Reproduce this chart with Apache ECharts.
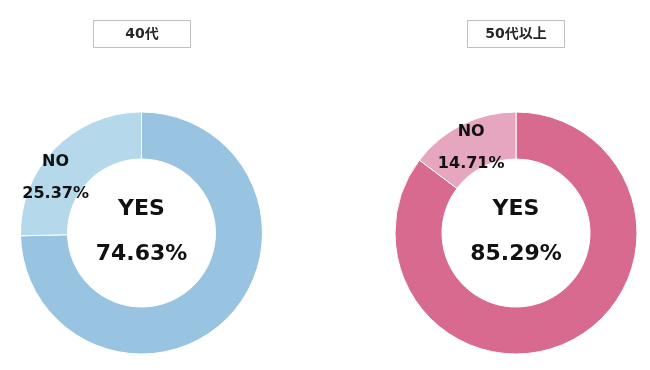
<!DOCTYPE html>
<html>
<head>
<meta charset="utf-8">
<script src="https://cdn.jsdelivr.net/npm/echarts@6/dist/echarts.min.js"></script>
<style>html,body{margin:0;padding:0;background:#fff;}#c{width:650px;height:370px;}</style>
</head>
<body>
<div id="c"></div>
<script>
var titles = ['40代', '50代以上'];
var categories = ['YES', 'NO'];
var values40 = [74.63, 25.37];
var values50 = [85.29, 14.71];

var FONT = '"DejaVu Sans", "Noto Sans CJK JP", sans-serif';
var chart = echarts.init(document.getElementById('c'));

function buildData(values, colors, noOffset) {
  return categories.map(function (name, i) {
    var item = { name: name, value: values[i], itemStyle: { color: colors[i] } };
    if (i === 0) {
      item.label = { position: 'center', fontSize: 22, lineHeight: 45, offset: [0, -1] };
    } else {
      item.label = { position: 'inside', fontSize: 16, lineHeight: 32, offset: noOffset };
    }
    return item;
  });
}

function pie(center, values, colors, noOffset) {
  return {
    type: 'pie',
    center: center,
    radius: [74, 121],
    startAngle: 90,
    clockwise: true,
    silent: true,
    avoidLabelOverlap: false,
    itemStyle: { borderColor: '#fff', borderWidth: 1 },
    label: {
      show: true,
      formatter: '{b}\n{c}%',
      color: '#111',
      fontWeight: 'bold',
      fontFamily: FONT
    },
    labelLine: { show: false },
    data: buildData(values, colors, noOffset)
  };
}

function titleBox(x, text) {
  return {
    type: 'group',
    left: x, top: 20,
    children: [
      { type: 'rect', shape: { x: 0, y: 0, width: 97, height: 27 },
        style: { fill: '#fff', stroke: '#bfbfbf', lineWidth: 1 } },
      { type: 'text', x: 48.5, y: 13.5,
        style: { text: text, fill: '#262626', font: 'bold 14px ' + FONT, align: 'center', verticalAlign: 'middle' } }
    ]
  };
}

chart.setOption({
  backgroundColor: '#fff',
  animation: false,
  graphic: [titleBox(93, titles[0]), titleBox(467, titles[1])],
  series: [
    pie([141.5, 233], values40, ['#98c4e2', '#b5d8eb'], [-14, 15]),
    pie([516, 233], values50, ['#d8698f', '#e6a6bf'], [0, 5])
  ]
});
</script>
</body>
</html>
